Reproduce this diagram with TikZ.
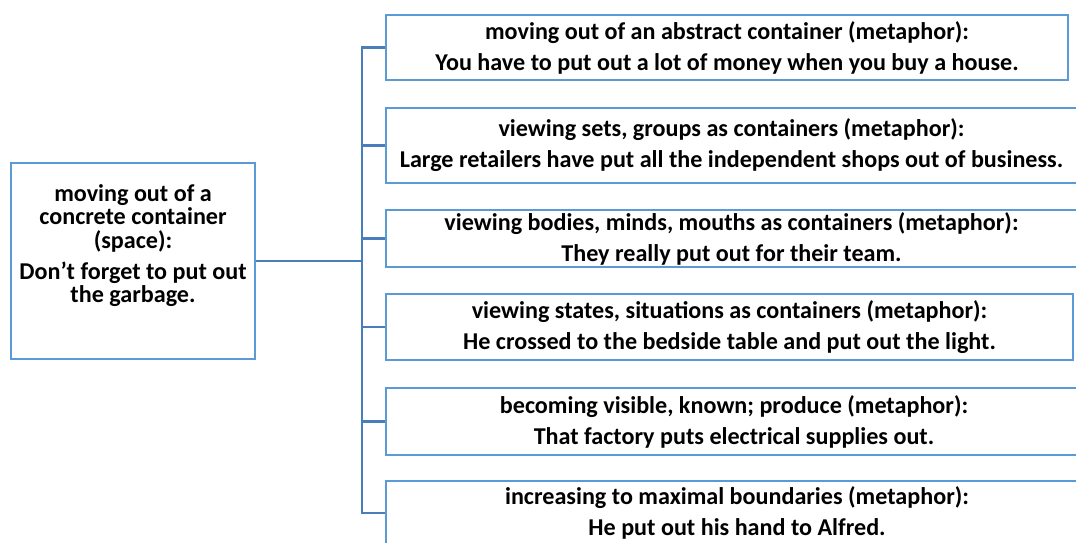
\documentclass[tikz,border=0pt]{standalone}
\usepackage{fontspec}
\setmainfont{Carlito}
\definecolor{boxblue}{HTML}{5B9BD5}
\definecolor{linkblue}{HTML}{4A7EBB}
\begin{document}
\begin{tikzpicture}[x=0.75pt,y=-0.75pt,
  boxfont/.style={font=\fontsize{18.1}{17.6}\selectfont\bfseries},
  box/.style={draw=boxblue,line width=1.5pt,rectangle,inner sep=0pt,align=center,boxfont},
  txt/.style={inner sep=0pt,align=center,boxfont},
  link/.style={draw=linkblue,line width=1.8pt}]
\useasboundingbox (0,0) rectangle (1076,543);
\clip (0,0) rectangle (1076,543);
\fill[white] (0,0) rectangle (1076,543);

\node[box,minimum width=183pt,minimum height=147pt] (src) at (133,261) {};
\node[txt] (srctext) at (133,245.5) {moving out of a\\concrete container\\(space):\\[5.6pt]Don’t forget to put out\\the garbage.};

\node[box,minimum width=511.5pt,minimum height=48.75pt] (b1) at (727,47.5)
  {moving out of an abstract container (metaphor):\\[5.6pt]You have to put out a lot of money when you buy a house.};
\node[box,minimum width=518.25pt,minimum height=56.25pt] (b2) at (731.5,145.5)
  {viewing sets, groups as containers (metaphor):\\[5.6pt]Large retailers have put all the independent shops out of business.};
\node[box,minimum width=518.25pt,minimum height=42.75pt] (b3) at (731.5,238.5)
  {viewing bodies, minds, mouths as containers (metaphor):\\[5.6pt]They really put out for their team.};
\node[box,minimum width=515.25pt,minimum height=49.5pt] (b4) at (729.5,327)
  {viewing states, situations as containers (metaphor):\\[5.6pt]He crossed to the bedside table and put out the light.};
\node[box,minimum width=522pt,minimum height=50.25pt] (b5) at (734,421.5)
  {becoming visible, known; produce (metaphor):\\[5.6pt]That factory puts electrical supplies out.};
\node[box,minimum width=526.5pt,minimum height=48pt] (b6) at (737,513)
  {increasing to maximal boundaries (metaphor):\\[5.6pt]He put out his hand to Alfred.};

\coordinate (trunk) at (362,261);
\draw[link] (src.east) -- (trunk);
\foreach \b in {b1,b2,b3,b4,b5,b6}{
  \draw[link] (trunk) |- (\b.west);
}
\end{tikzpicture}
\end{document}
